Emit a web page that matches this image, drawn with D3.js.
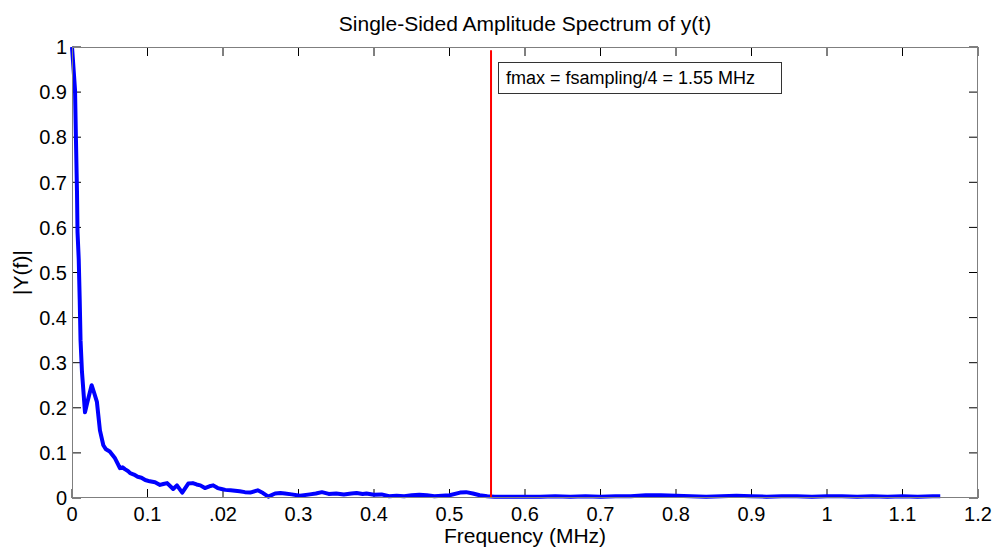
<!DOCTYPE html>
<html><head><meta charset="utf-8">
<script src="https://d3js.org/d3.v7.min.js"></script>
<style>
html,body{margin:0;padding:0;background:#fff;}
svg text{font-family:"Liberation Sans",Arial,sans-serif;fill:#000;}
</style></head>
<body>
<svg id="c" width="997" height="547"></svg>
<script>
// ---- data ----
const title = "Single-Sided Amplitude Spectrum of y(t)";
const xLabel = "Frequency (MHz)";
const yLabel = "|Y(f)|";
const xTickValues = [0,0.1,0.2,0.3,0.4,0.5,0.6,0.7,0.8,0.9,1,1.1,1.2];
const xTickLabels = ["0","0.1",".02","0.3","0.4","0.5","0.6","0.7","0.8","0.9","1","1.1","1.2"];
const yTickValues = [0,0.1,0.2,0.3,0.4,0.5,0.6,0.7,0.8,0.9,1];
const yTickLabels = ["0","0.1","0.2","0.3","0.4","0.5","0.6","0.7","0.8","0.9","1"];
const freq = [0,0.0013,0.004,0.0053,0.0066,0.0073,0.0089,0.0102,0.0113,0.0132,0.0172,0.020,0.026,0.029,0.033,0.037,0.0415,0.045,0.050,0.057,0.0636,0.067,0.070,0.074,0.077,0.082,0.087,0.092,0.097,0.103,0.110,0.1166,0.121,0.126,0.134,0.139,0.146,0.154,0.160,0.165,0.170,0.176,0.182,0.187,0.193,0.198,0.203,0.210,0.216,0.222,0.229,0.236,0.246,0.253,0.260,0.269,0.276,0.282,0.291,0.302,0.315,0.323,0.331,0.34,0.35,0.36,0.37,0.377,0.385,0.39,0.40,0.41,0.42,0.43,0.44,0.45,0.46,0.47,0.48,0.49,0.50,0.514,0.522,0.531,0.54,0.55,0.56,0.58,0.60,0.62,0.64,0.66,0.68,0.70,0.72,0.74,0.76,0.78,0.80,0.82,0.84,0.86,0.88,0.90,0.92,0.94,0.96,0.98,1.00,1.02,1.04,1.06,1.08,1.10,1.12,1.14,1.15];
const amp  = [1.0,0.97,0.905,0.79,0.68,0.59,0.53,0.44,0.35,0.28,0.19,0.21,0.25,0.235,0.213,0.15,0.117,0.108,0.103,0.088,0.066,0.068,0.064,0.060,0.055,0.052,0.047,0.045,0.040,0.037,0.035,0.029,0.031,0.033,0.020,0.028,0.012,0.032,0.033,0.030,0.028,0.022,0.026,0.028,0.022,0.020,0.018,0.017,0.016,0.015,0.013,0.012,0.017,0.011,0.003,0.010,0.011,0.010,0.008,0.005,0.008,0.010,0.013,0.009,0.010,0.008,0.010,0.011,0.009,0.010,0.007,0.008,0.004,0.005,0.004,0.006,0.007,0.006,0.004,0.005,0.006,0.012,0.013,0.010,0.006,0.004,0.003,0.003,0.003,0.003,0.004,0.003,0.004,0.003,0.004,0.004,0.006,0.006,0.005,0.004,0.003,0.004,0.005,0.004,0.003,0.004,0.004,0.003,0.004,0.004,0.003,0.004,0.003,0.004,0.003,0.004,0.004];
const fmaxLine = 0.555;
const annotation = "fmax = fsampling/4 = 1.55 MHz";

// ---- layout ----
const svg = d3.select("#c");
const L = 72, R = 978, T = 47, B = 498;
const x = d3.scaleLinear().domain([0,1.2]).range([L,R]);
const y = d3.scaleLinear().domain([0,1]).range([B,T]);
const tickLen = 9;

// ticks (inside, all sides)
const g = svg.append("g");
const xt = g.selectAll(".xt").data(xTickValues).enter();
xt.append("line").attr("x1",d=>x(d)).attr("x2",d=>x(d)).attr("y1",B).attr("y2",B-tickLen).attr("stroke","#000").attr("stroke-width",1);
xt.append("line").attr("x1",d=>x(d)).attr("x2",d=>x(d)).attr("y1",T).attr("y2",T+tickLen).attr("stroke","#000").attr("stroke-width",1);
const yt = g.selectAll(".yt").data(yTickValues).enter();
yt.append("line").attr("x1",L).attr("x2",L+tickLen).attr("y1",d=>y(d)).attr("y2",d=>y(d)).attr("stroke","#000").attr("stroke-width",1);
yt.append("line").attr("x1",R).attr("x2",R-tickLen).attr("y1",d=>y(d)).attr("y2",d=>y(d)).attr("stroke","#000").attr("stroke-width",1);

// tick labels
svg.selectAll(".xl").data(xTickValues).enter().append("text")
  .attr("x",d=>x(d)).attr("y",521).attr("text-anchor","middle").attr("font-size",20)
  .text((d,i)=>xTickLabels[i]);
svg.selectAll(".yl").data(yTickValues).enter().append("text")
  .attr("x",L-5).attr("y",d=>y(d)).attr("dy","0.36em").attr("text-anchor","end").attr("font-size",20)
  .text((d,i)=>yTickLabels[i]);

// data line
const pts = freq.map((f,i)=>[f,amp[i]]);
svg.append("path").datum(pts)
  .attr("d", d3.line().x(d=>x(d[0])).y(d=>y(d[1])))
  .attr("fill","none").attr("stroke","#0000ff").attr("stroke-width",4).attr("stroke-linejoin","round");

// fmax line
svg.append("line").attr("x1",x(fmaxLine)).attr("x2",x(fmaxLine)).attr("y1",y(0.993)).attr("y2",y(0))
  .attr("stroke","#ff0000").attr("stroke-width",2);

// box
svg.append("rect").attr("x",L+0.5).attr("y",T+0.5).attr("width",R-L-1).attr("height",B-T-1)
  .attr("fill","none").attr("stroke","#7f7f7f").attr("stroke-width",1);

// annotation box
svg.append("rect").attr("x",498.5).attr("y",62.5).attr("width",283).attr("height",31)
  .attr("fill","#fff").attr("stroke","#333").attr("stroke-width",1);
svg.append("text").attr("x",506).attr("y",84).attr("font-size",18).text(annotation);

// titles
svg.append("text").attr("x",(L+R)/2).attr("y",31).attr("text-anchor","middle").attr("font-size",21).text(title);
svg.append("text").attr("x",(L+R)/2).attr("y",543).attr("text-anchor","middle").attr("font-size",21).text(xLabel);
svg.append("text").attr("transform",`translate(28,${(T+B)/2}) rotate(-90)`).attr("text-anchor","middle").attr("font-size",21).text(yLabel);
</script>
</body></html>
